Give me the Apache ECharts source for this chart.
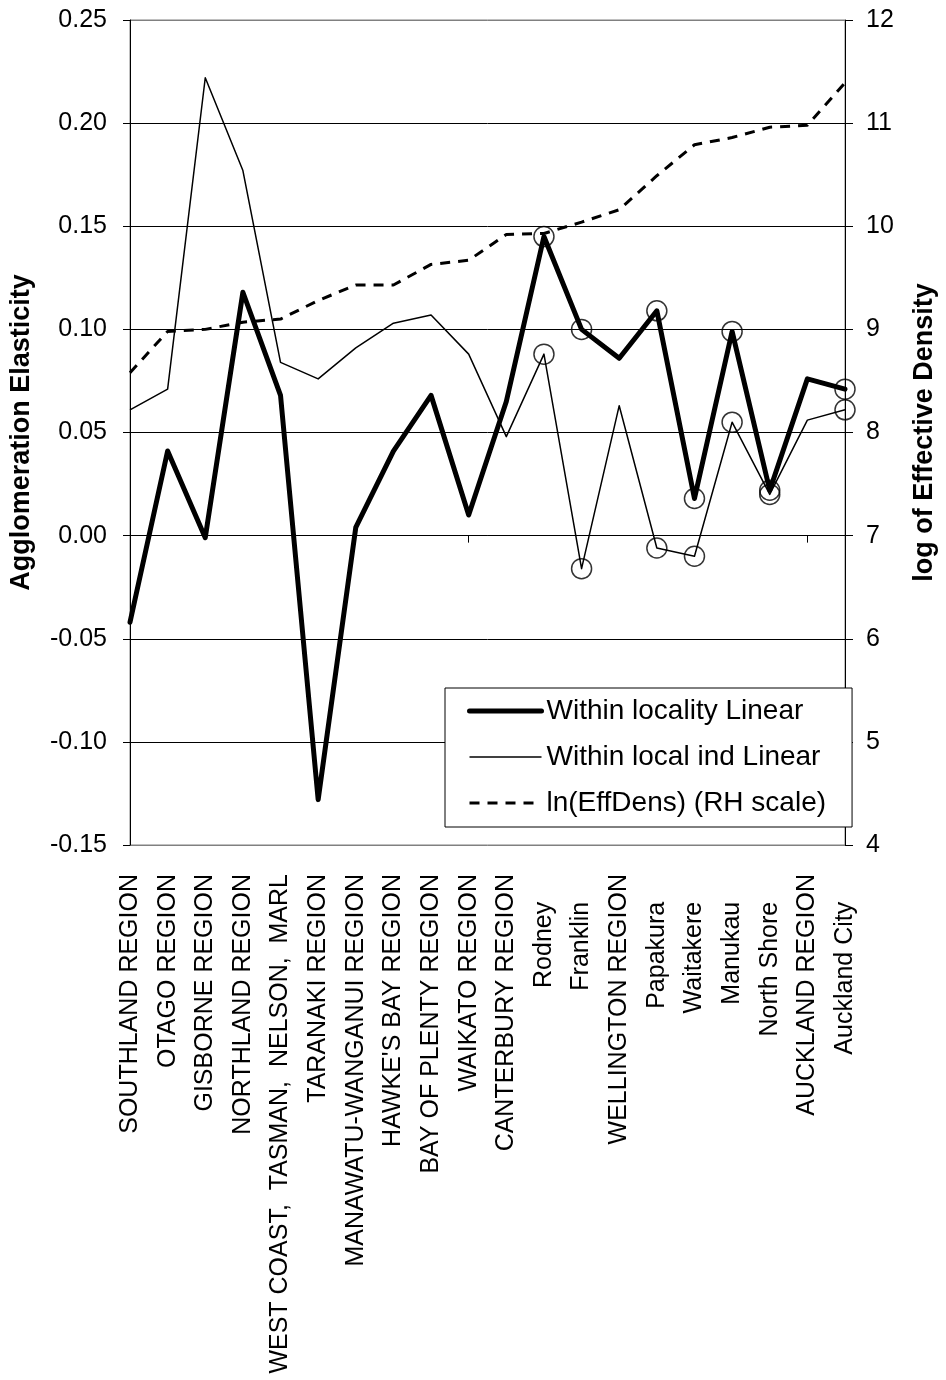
<!DOCTYPE html>
<html>
<head>
<meta charset="utf-8">
<script src="https://cdn.jsdelivr.net/npm/echarts@6/dist/echarts.min.js"></script>
<style>
  html, body { margin: 0; padding: 0; background: #fff; }
  #chart { width: 946px; height: 1380px; }
</style>
</head>
<body>
<div id="chart"></div>
<script>
// ---- Data ----
const categories = [
  'SOUTHLAND REGION', 'OTAGO REGION', 'GISBORNE REGION', 'NORTHLAND REGION',
  'WEST COAST,  TASMAN,  NELSON,  MARL', 'TARANAKI REGION', 'MANAWATU-WANGANUI REGION',
  "HAWKE'S BAY REGION", 'BAY OF PLENTY REGION', 'WAIKATO REGION', 'CANTERBURY REGION',
  'Rodney', 'Franklin', 'WELLINGTON REGION', 'Papakura', 'Waitakere', 'Manukau',
  'North Shore', 'AUCKLAND REGION', 'Auckland City'
];
const localities = ['Rodney', 'Franklin', 'Papakura', 'Waitakere', 'Manukau', 'North Shore', 'Auckland City'];

const withinLocality = [-0.042, 0.041, -0.001, 0.118, 0.068, -0.128, 0.004, 0.041, 0.068, 0.010,
                        0.065, 0.145, 0.100, 0.086, 0.109, 0.018, 0.099, 0.022, 0.076, 0.071];
const withinLocalInd = [0.061, 0.071, 0.222, 0.177, 0.084, 0.076, 0.091, 0.103, 0.107, 0.088,
                        0.048, 0.088, -0.016, 0.063, -0.006, -0.010, 0.055, 0.020, 0.056, 0.061];
const lnEffDens = [8.58, 8.98, 9.00, 9.07, 9.10, 9.28, 9.43, 9.43, 9.63, 9.67,
                   9.92, 9.93, 10.04, 10.16, 10.49, 10.79, 10.86, 10.96, 10.98, 11.39];

const leftTicks = { min: -0.15, max: 0.25, interval: 0.05 };
const rightTicks = { min: 4, max: 12, interval: 1 };
const seriesNames = ['Within locality Linear', 'Within local ind Linear', 'ln(EffDens) (RH scale)'];

// ---- Chart ----
const FONT = "'Liberation Sans', Arial, sans-serif";
const chart = echarts.init(document.getElementById('chart'), null, { renderer: 'canvas' });

function circled(arr) {
  return arr.map((v, i) => localities.includes(categories[i]) ? v : '-');
}

const gridColors = [];
for (let v = leftTicks.min; v <= leftTicks.max + 1e-9; v += leftTicks.interval) gridColors.push('#000');
gridColors[0] = '#808080';
gridColors[gridColors.length - 1] = '#808080';

const circleStyle = { color: 'rgba(0,0,0,0)', borderColor: '#000', borderWidth: 1.5 };
const thickStyle = { color: '#000', width: 5, join: 'round', cap: 'round' };
const thinStyle = { color: '#000', width: 1.5, join: 'round' };
const dashStyle = { color: '#000', width: 3, type: [10, 8] };
const hiddenSymbol = { opacity: 0, color: 'rgba(0,0,0,0)', borderWidth: 0 };

chart.setOption({
  animation: false,
  backgroundColor: '#fff',
  textStyle: { fontFamily: FONT, color: '#000' },
  grid: {
    left: 130, right: 94, top: 20, bottom: 535,
    show: true, borderColor: '#808080', borderWidth: 1, backgroundColor: 'transparent'
  },
  legend: {
    data: [
      { name: seriesNames[0], lineStyle: thickStyle, itemStyle: hiddenSymbol },
      { name: seriesNames[1], lineStyle: thinStyle, itemStyle: hiddenSymbol },
      { name: seriesNames[2], lineStyle: dashStyle, itemStyle: hiddenSymbol }
    ],
    orient: 'vertical',
    left: 445, top: 688,
    padding: [9, 26, 10, 22],
    itemWidth: 72, itemHeight: 14, itemGap: 18,
    backgroundColor: '#fff',
    borderColor: '#000', borderWidth: 1, borderRadius: 0,
    textStyle: { fontFamily: FONT, fontSize: 28, color: '#000' },
    selectedMode: false
  },
  xAxis: [
    {
      type: 'category', data: categories, boundaryGap: false,
      position: 'bottom',
      axisLine: { show: true, onZero: true, onZeroAxisIndex: 0, lineStyle: { color: '#000', width: 1 } },
      axisTick: { show: true, alignWithLabel: true, length: 7, lineStyle: { color: '#000' } },
      axisLabel: { show: false },
      splitLine: { show: false }
    },
    {
      type: 'category', data: categories, boundaryGap: false,
      position: 'bottom',
      axisLine: { show: false, onZero: false },
      axisTick: { show: false },
      axisLabel: {
        show: true, interval: 0, rotate: 90, margin: 29,
        fontFamily: FONT, fontSize: 25, color: '#000',
        formatter: v => localities.includes(v) ? v + '    ' : v
      },
      splitLine: { show: false }
    }
  ],
  yAxis: [
    {
      type: 'value', position: 'left',
      min: leftTicks.min, max: leftTicks.max, interval: leftTicks.interval,
      name: 'Agglomeration Elasticity', nameLocation: 'middle', nameGap: 95, nameRotate: 90,
      nameTextStyle: { fontFamily: FONT, fontSize: 27, fontWeight: 'bold', color: '#000' },
      axisLine: { show: true, lineStyle: { color: '#000', width: 1 } },
      axisTick: { show: true, length: 7, lineStyle: { color: '#000' } },
      axisLabel: { fontFamily: FONT, fontSize: 25, color: '#000', margin: 23, formatter: v => v.toFixed(2) },
      splitLine: { show: true, lineStyle: { color: gridColors, width: 1 } }
    },
    {
      type: 'value', position: 'right',
      min: rightTicks.min, max: rightTicks.max, interval: rightTicks.interval,
      name: 'log of Effective Density', nameLocation: 'middle', nameGap: 66, nameRotate: 90,
      nameTextStyle: { fontFamily: FONT, fontSize: 27, fontWeight: 'bold', color: '#000' },
      axisLine: { show: true, lineStyle: { color: '#000', width: 1 } },
      axisTick: { show: true, length: 8, lineStyle: { color: '#000' } },
      axisLabel: { fontFamily: FONT, fontSize: 25, color: '#000', margin: 21 },
      splitLine: { show: false }
    }
  ],
  series: [
    {
      name: seriesNames[0], type: 'line', data: withinLocality,
      xAxisIndex: 0, yAxisIndex: 0, symbol: 'none', z: 4,
      lineStyle: thickStyle, itemStyle: { color: '#000' }
    },
    {
      name: seriesNames[1], type: 'line', data: withinLocalInd,
      xAxisIndex: 0, yAxisIndex: 0, symbol: 'none', z: 3,
      lineStyle: thinStyle, itemStyle: { color: '#000' }
    },
    {
      name: seriesNames[2], type: 'line', data: lnEffDens,
      xAxisIndex: 0, yAxisIndex: 1, symbol: 'none', z: 3,
      lineStyle: dashStyle, itemStyle: { color: '#000' }
    },
    {
      name: 'locality markers A', type: 'scatter', data: circled(withinLocality),
      xAxisIndex: 0, yAxisIndex: 0, symbol: 'circle', symbolSize: 20, z: 5,
      itemStyle: circleStyle, silent: true
    },
    {
      name: 'locality markers B', type: 'scatter', data: circled(withinLocalInd),
      xAxisIndex: 0, yAxisIndex: 0, symbol: 'circle', symbolSize: 20, z: 5,
      itemStyle: circleStyle, silent: true
    }
  ]
});
</script>
</body>
</html>
